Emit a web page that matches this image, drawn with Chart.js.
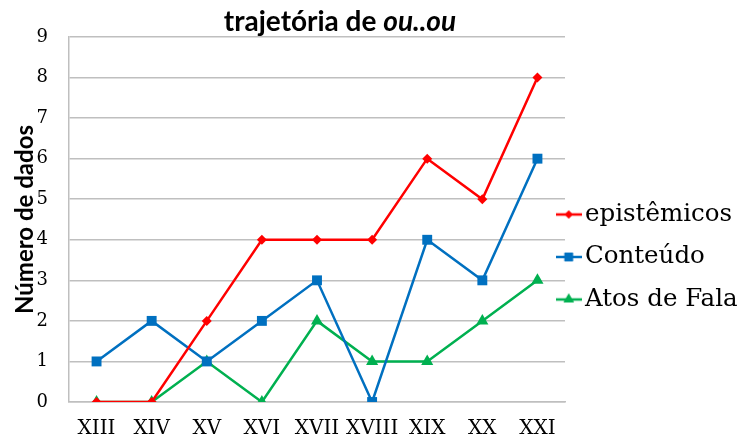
<!DOCTYPE html>
<html>
<head>
<meta charset="utf-8">
<script src="https://cdn.jsdelivr.net/npm/chart.js@4"></script>
<style>
  html, body { margin: 0; padding: 0; background: #fff; }
  #wrap { width: 741px; height: 439px; }
</style>
</head>
<body>
<div id="wrap"><canvas id="grafico"></canvas></div>
<script>
// dados
const seculos = ['XIII', 'XIV', 'XV', 'XVI', 'XVII', 'XVIII', 'XIX', 'XX', 'XXI'];
const epistemicos = [0, 0, 2, 4, 4, 4, 6, 5, 8];
const conteudo = [1, 2, 1, 2, 3, 0, 4, 3, 6];
const atosDeFala = [0, 0, 1, 0, 2, 1, 1, 2, 3];

const serif = '"DejaVu Serif", "Liberation Serif", serif';
const sans = 'Lato, "Open Sans", sans-serif';

// ícone da legenda: linha + marcador, como no Excel
function iconeLegenda(cor, estilo, raio) {
    const c = document.createElement('canvas');
    c.width = 26; c.height = 16;
    const g = c.getContext('2d');
    g.strokeStyle = cor; g.lineWidth = 2.5;
    g.beginPath(); g.moveTo(0, 8); g.lineTo(26, 8); g.stroke();
    g.fillStyle = cor;
    Chart.helpers.drawPoint(g, { pointStyle: estilo, radius: raio, rotation: 0, borderWidth: 0 }, 13, 8);
    g.fill();
    return c;
}

// título com parte em itálico
const tituloPlugin = {
    id: 'titulo',
    afterDraw(chart) {
        const ctx = chart.ctx;
        const a = 'trajetória de ';
        const b = 'ou..ou';
        ctx.save();
        ctx.fillStyle = '#000';
        ctx.textBaseline = 'alphabetic';
        const fa = 'bold 28px ' + sans;
        const fb = 'italic bold 28px ' + sans;
        ctx.font = fa; const wa = ctx.measureText(a).width;
        ctx.font = fb; const wb = ctx.measureText(b).width;
        const x0 = 340 - (wa + wb) / 2;
        ctx.font = fa; ctx.fillText(a, x0, 31);
        ctx.font = fb; ctx.fillText(b, x0 + wa, 31);
        ctx.restore();
    }
};

// a legenda do Excel fica um pouco sobre a área do gráfico e mais abaixo
const legendaPlugin = {
    id: 'posLegenda',
    afterLayout(chart) {
        const lg = chart.legend;
        lg.left -= 18.25;
        lg.top += 19; lg.bottom += 19;
    }
};

const series = [
    { label: 'epistêmicos', data: epistemicos, cor: '#FF0000', estilo: 'rectRot', raio: 5 },
    { label: 'Conteúdo', data: conteudo, cor: '#0070C0', estilo: 'rect', raio: 7 },
    { label: 'Atos de Fala', data: atosDeFala, cor: '#00B050', estilo: 'triangle', raio: 7 }
];

new Chart(document.getElementById('grafico'), {
    type: 'line',
    data: {
        labels: seculos,
        datasets: series.map(s => ({
            label: s.label,
            data: s.data,
            borderColor: s.cor,
            backgroundColor: s.cor,
            borderWidth: 2.5,
            pointStyle: s.estilo,
            pointRadius: s.raio,
            pointHoverRadius: s.raio,
            pointBorderWidth: 0,
            tension: 0,
            fill: false
        }))
    },
    options: {
        responsive: true,
        maintainAspectRatio: false,
        animation: false,
        layout: { padding: { top: 37, right: 0, bottom: 0, left: 9 } },
        scales: {
            x: {
                offset: true,
                grid: { display: false, drawTicks: false },
                border: { display: true, color: '#BFBFBF', width: 1.5 },
                ticks: { color: '#000', font: { family: serif, size: 20 }, padding: 15, maxRotation: 0, autoSkip: false },
                afterFit(scale) { scale.height = 37; }
            },
            y: {
                min: 0,
                max: 9,
                ticks: { stepSize: 1, color: '#000', font: { family: serif, size: 18 }, padding: 21 },
                grid: { color: '#BFBFBF', lineWidth: 1.5, drawTicks: false },
                border: { display: true, color: '#BFBFBF', width: 1.5 },
                title: { display: true, text: 'Número de dados', color: '#000', font: { family: sans, size: 24, weight: 'bold' }, padding: 2 },
                afterFit(scale) { scale.width = 60; }
            }
        },
        plugins: {
            legend: {
                position: 'right',
                maxWidth: 176,
                labels: {
                    color: '#000',
                    font: { family: serif, size: 24.5 },
                    usePointStyle: true,
                    pointStyleWidth: 8,
                    padding: 18,
                    generateLabels(chart) {
                        return series.map((s, i) => ({
                            text: s.label,
                            pointStyle: iconeLegenda(s.cor, s.estilo, s.raio - 1),
                            fillStyle: s.cor,
                            strokeStyle: s.cor,
                            fontColor: '#000',
                            lineWidth: 0,
                            hidden: false,
                            datasetIndex: i
                        }));
                    }
                }
            },
            tooltip: { enabled: false }
        }
    },
    plugins: [tituloPlugin, legendaPlugin]
});
</script>
</body>
</html>
